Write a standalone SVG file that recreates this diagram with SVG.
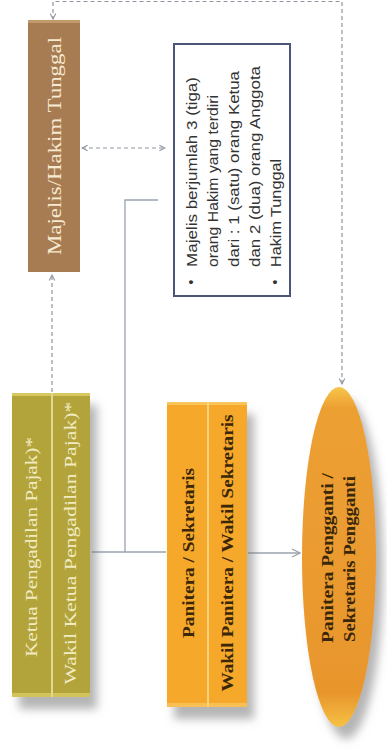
<svg xmlns="http://www.w3.org/2000/svg" width="387" height="755" viewBox="0 0 387 755">
<style>
.dash{fill:none;stroke:#8f96a0;stroke-width:1.2;stroke-dasharray:4 3}
.solid{fill:none;stroke:#9aa3ad;stroke-width:1.3}
.serif{font-family:"Liberation Serif","Times New Roman",serif}
.sans{font-family:"Liberation Sans",Arial,sans-serif}
.lt{fill:#f6ead0;font-size:19px}
.ol{fill:#f1ebc2;font-size:17px}
.dk{fill:#3a2608;font-size:16px;font-weight:bold}
.note{fill:#333;font-size:14px}
</style>
<defs>
<filter id="sh" x="-30%" y="-10%" width="170%" height="130%">
<feDropShadow dx="7" dy="12" stdDeviation="5" flood-color="#777" flood-opacity="0.55"/>
</filter>
<linearGradient id="ellg" x1="0" y1="0" x2="0" y2="1">
<stop offset="0" stop-color="#f7c64a"/>
<stop offset="0.06" stop-color="#eda033"/>
<stop offset="0.9" stop-color="#e8962c"/>
<stop offset="1" stop-color="#f6c144"/>
</linearGradient>
<marker id="ah" viewBox="0 0 10 10" refX="9" refY="5" markerWidth="7" markerHeight="7" orient="auto-start-reverse" markerUnits="userSpaceOnUse">
<path d="M1 1 L9 5 L1 9" fill="none" stroke="#8f96a0" stroke-width="1.5"/>
</marker>
<marker id="ah2" viewBox="0 0 10 10" refX="9" refY="5" markerWidth="10" markerHeight="10" orient="auto" markerUnits="userSpaceOnUse">
<path d="M1 1 L9 5 L1 9" fill="none" stroke="#9aa3ad" stroke-width="1.3"/>
</marker>
</defs>
<rect width="387" height="755" fill="#fff"/>

<g id="connectors">
<path class="dash" d="M342 384 V1.5 H53 V19" marker-start="url(#ah)" marker-end="url(#ah)"/>
<path class="dash" d="M82 148 H165" marker-start="url(#ah)" marker-end="url(#ah)"/>
<path class="dash" d="M52 392 V275" marker-end="url(#ah)"/>
<path class="solid" d="M92 552 H166"/>
<path class="solid" d="M125 552 V200 H158"/>
<path class="solid" d="M248 553 H300" marker-end="url(#ah2)"/>
</g>

<g id="majelis">
<rect x="28" y="20" width="52" height="252" fill="#a87c53"/>
<rect x="28" y="20" width="52" height="3" fill="#c39a6c"/>
<text class="serif lt" transform="translate(54,146) rotate(-90)" text-anchor="middle" dominant-baseline="central" textLength="218" lengthAdjust="spacingAndGlyphs">Majelis/Hakim Tunggal</text>
</g>

<g id="note">
<rect x="174" y="44" width="116" height="252" fill="#fff" stroke="#4b5578" stroke-width="2"/>
<g class="sans note">
<text transform="translate(191,282) rotate(-90)" text-anchor="middle" dominant-baseline="central">•</text>
<text transform="translate(192,267) rotate(-90)" dominant-baseline="central" textLength="190" lengthAdjust="spacingAndGlyphs">Majelis berjumlah 3 (tiga)</text>
<text transform="translate(213,267) rotate(-90)" dominant-baseline="central" textLength="172" lengthAdjust="spacingAndGlyphs">orang Hakim yang terdiri</text>
<text transform="translate(234,267) rotate(-90)" dominant-baseline="central" textLength="196" lengthAdjust="spacingAndGlyphs">dari : 1 (satu) orang Ketua</text>
<text transform="translate(255,267) rotate(-90)" dominant-baseline="central" textLength="201" lengthAdjust="spacingAndGlyphs">dan 2 (dua) orang Anggota</text>
<text transform="translate(275,282) rotate(-90)" text-anchor="middle" dominant-baseline="central">•</text>
<text transform="translate(276,267) rotate(-90)" dominant-baseline="central" textLength="108" lengthAdjust="spacingAndGlyphs">Hakim Tunggal</text>
</g>
</g>

<g id="ketua">
<rect x="12" y="393" width="78" height="304" fill="#b3a33a" filter="url(#sh)"/>
<rect x="12" y="393" width="78" height="3" fill="#d6c85e"/>
<rect x="12" y="693" width="78" height="4" fill="#d2c45a"/>
<rect x="51" y="393" width="2" height="304" fill="#e3d98c"/>
<text class="serif ol" transform="translate(31,547) rotate(-90)" text-anchor="middle" dominant-baseline="central" textLength="220" lengthAdjust="spacingAndGlyphs">Ketua Pengadilan Pajak)*</text>
<text class="serif ol" transform="translate(70,543) rotate(-90)" text-anchor="middle" dominant-baseline="central" textLength="283" lengthAdjust="spacingAndGlyphs">Wakil Ketua Pengadilan Pajak)*</text>
</g>

<g id="panitera">
<rect x="167" y="402" width="80" height="305" fill="#f5a82b" filter="url(#sh)"/>
<rect x="167" y="402" width="80" height="3" fill="#f9c45a"/>
<rect x="167" y="703" width="80" height="4" fill="#f8c052"/>
<rect x="207" y="402" width="2" height="305" fill="#fbd27c"/>
<text class="serif dk" transform="translate(188,553) rotate(-90)" text-anchor="middle" dominant-baseline="central" textLength="170" lengthAdjust="spacingAndGlyphs">Panitera / Sekretaris</text>
<text class="serif dk" transform="translate(227,553) rotate(-90)" text-anchor="middle" dominant-baseline="central" textLength="277" lengthAdjust="spacingAndGlyphs">Wakil Panitera / Wakil Sekretaris</text>
</g>

<g id="pengganti">
<ellipse cx="339" cy="557" rx="37" ry="170" fill="url(#ellg)" filter="url(#sh)"/>
<text class="serif dk" transform="translate(327,558) rotate(-90)" text-anchor="middle" dominant-baseline="central" textLength="170" lengthAdjust="spacingAndGlyphs">Panitera Pengganti /</text>
<text class="serif dk" transform="translate(349,559) rotate(-90)" text-anchor="middle" dominant-baseline="central" textLength="166" lengthAdjust="spacingAndGlyphs">Sekretaris Pengganti</text>
</g>
</svg>
